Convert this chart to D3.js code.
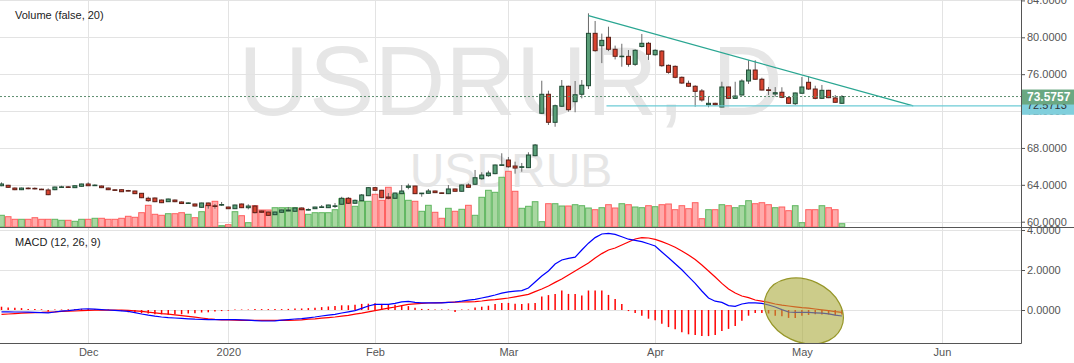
<!DOCTYPE html>
<html>
<head>
<meta charset="utf-8">
<script src="https://cdn.jsdelivr.net/npm/d3@7"></script>
<style>
  body { margin: 0; background: #fff; }
  svg { display: block; font-family: "Liberation Sans", Arial, sans-serif; }
</style>
</head>
<body>
<svg id="chart" width="1074" height="363"></svg>
<script>
// trading calendar: weekdays from the first candle, minus the days with no quotes
const startDate = '2019-11-13'
const holidays = ['2019-12-25', '2020-01-01']

// daily USD/RUB candles, one entry per trading day
const opens = [63.90, 63.95, 63.65, 63.47, 63.64, 63.62, 63.53, 63.44, 63.47, 63.74,
  63.78, 63.69, 63.84, 64.09, 63.93, 63.87, 63.65, 63.46, 63.47, 63.38,
  63.33, 63.08, 62.54, 62.57, 62.35, 62.17, 62.35, 62.14, 62.00, 61.92,
  61.56, 62.03, 61.72, 61.82, 61.59, 61.41, 61.92, 61.52, 61.70, 61.16,
  61.05, 60.76, 61.02, 61.16, 61.13, 61.49, 61.28, 61.41, 61.57, 61.52,
  61.68, 61.89, 62.54, 62.00, 62.28, 62.82, 63.69, 63.41, 62.68, 62.54,
  63.04, 63.73, 63.87, 63.06, 63.08, 63.33, 63.13, 63.04, 63.55, 63.30,
  63.98, 64.06, 64.66, 64.99, 65.21, 66.13, 66.69, 66.04, 65.90, 65.86,
  67.16, 71.76, 73.82, 70.78, 72.52, 74.69, 73.02, 73.82, 74.75, 80.43,
  79.09, 80.00, 78.70, 77.90, 77.94, 77.07, 79.00, 79.35, 78.11, 78.51,
  76.96, 76.85, 75.66, 75.01, 74.69, 74.18, 72.69, 72.84, 72.44, 74.61,
  73.38, 73.74, 75.26, 76.45, 75.45, 74.30, 73.85, 74.04, 73.45, 72.80,
  73.93, 75.12, 74.39, 73.38, 74.25, 73.42, 72.84]
const highs = [64.27, 64.00, 63.70, 63.70, 63.73, 63.72, 63.58, 63.62, 63.80, 63.90,
  63.85, 63.93, 64.12, 64.27, 64.05, 63.92, 63.70, 63.50, 63.50, 63.45,
  63.36, 63.10, 62.71, 62.62, 62.40, 62.50, 62.40, 62.20, 62.10, 61.96,
  62.06, 62.06, 61.92, 62.14, 61.62, 61.85, 61.96, 61.89, 61.81, 61.20,
  61.08, 61.08, 61.30, 61.59, 61.52, 61.53, 61.45, 61.62, 61.81, 61.84,
  62.03, 62.70, 62.68, 62.40, 63.00, 63.75, 63.75, 63.45, 63.11, 63.15,
  63.98, 64.12, 63.90, 63.12, 63.55, 63.37, 63.15, 63.98, 63.58, 64.02,
  64.16, 65.61, 65.36, 65.53, 66.20, 67.42, 67.02, 66.51, 66.37, 67.53,
  68.43, 75.29, 74.21, 72.70, 75.37, 74.75, 75.26, 75.37, 82.60, 81.77,
  80.40, 81.15, 79.10, 79.30, 78.62, 78.70, 80.36, 79.50, 78.70, 78.60,
  77.05, 76.95, 75.75, 75.30, 74.80, 74.39, 73.56, 72.90, 75.18, 74.65,
  75.18, 75.44, 77.51, 77.51, 75.62, 74.61, 74.60, 74.58, 73.50, 74.00,
  75.69, 75.80, 74.75, 74.83, 74.30, 73.74, 73.74]
const lows = [63.85, 63.68, 63.42, 63.43, 63.52, 63.50, 63.44, 62.88, 63.42, 63.70,
  63.70, 63.66, 63.80, 63.87, 63.88, 63.65, 63.43, 63.38, 63.22, 63.30,
  63.00, 62.56, 62.17, 62.12, 62.02, 62.14, 62.12, 61.92, 61.95, 61.66,
  61.52, 61.41, 61.41, 61.70, 61.38, 61.38, 61.48, 61.34, 60.91, 60.98,
  60.65, 60.72, 60.98, 61.14, 61.10, 61.26, 61.22, 61.38, 61.49, 61.49,
  61.49, 61.85, 61.92, 61.95, 62.25, 62.78, 63.36, 62.55, 62.43, 62.50,
  63.00, 63.51, 63.00, 62.71, 63.05, 63.12, 63.05, 63.00, 63.27, 63.27,
  63.70, 63.98, 64.56, 64.88, 65.15, 66.07, 65.86, 65.21, 65.42, 65.82,
  67.10, 71.70, 70.49, 70.30, 72.45, 71.93, 71.87, 73.38, 74.39, 78.44,
  77.20, 78.50, 77.60, 76.81, 76.81, 76.90, 78.90, 77.54, 78.00, 76.80,
  76.05, 75.55, 74.95, 74.60, 72.47, 73.02, 72.41, 72.60, 72.41, 73.35,
  73.31, 73.70, 74.94, 75.40, 74.25, 73.74, 73.56, 73.40, 72.78, 72.66,
  73.90, 74.30, 73.28, 73.31, 73.40, 72.90, 72.77]
const closes = [64.09, 63.73, 63.47, 63.65, 63.60, 63.58, 63.49, 62.93, 63.76, 63.78,
  63.74, 63.90, 64.09, 63.90, 63.97, 63.69, 63.47, 63.42, 63.25, 63.34,
  63.04, 62.60, 62.28, 62.17, 62.06, 62.46, 62.17, 61.97, 62.04, 61.70,
  62.03, 61.74, 61.68, 61.86, 61.41, 61.81, 61.52, 61.70, 60.98, 61.02,
  60.69, 61.05, 61.27, 61.27, 61.49, 61.30, 61.32, 61.59, 61.61, 61.81,
  61.72, 62.54, 62.00, 62.32, 62.90, 63.69, 63.41, 62.60, 62.54, 63.11,
  63.33, 63.87, 63.04, 63.10, 63.33, 63.15, 63.09, 63.55, 63.30, 63.98,
  63.73, 64.77, 65.06, 65.28, 66.15, 66.17, 65.96, 65.82, 65.96, 67.23,
  68.32, 73.82, 70.78, 72.58, 74.69, 72.15, 73.77, 74.80, 80.43, 78.55,
  79.67, 78.70, 77.94, 77.96, 77.07, 78.59, 79.35, 78.16, 78.59, 76.92,
  76.20, 75.66, 75.04, 74.69, 74.14, 73.20, 72.84, 72.69, 74.61, 73.38,
  73.63, 75.26, 76.45, 75.45, 74.28, 74.26, 73.99, 73.49, 72.84, 73.96,
  74.61, 74.39, 73.38, 74.25, 73.45, 72.95, 73.5757]
const volumes = [11.7, 10.3, 7.7, 7.7, 7.7, 9.3, 7.7, 7.7, 7.7, 6.7,
  6.7, 5.7, 7.7, 7.7, 8.7, 8.7, 7.7, 7.7, 8.7, 10.7,
  9.7, 14.3, 21.7, 12.7, 11.7, 13.3, 13.3, 14.3, 12.7, 9.3,
  15.3, 21.7, 25.7, 1.3, 2.3, 15.3, 11.3, 4.3, 21.3, 17.0,
  17.0, 19.3, 19.3, 19.3, 19.3, 18.3, 12.7, 14.3, 14.3, 14.3,
  17.3, 28.3, 28.3, 20.7, 25.7, 25.7, 32.7, 26.7, 39.7, 32.7,
  34.0, 26.7, 25.7, 15.7, 21.7, 14.7, 8.7, 18.7, 15.7, 17.7,
  21.7, 11.7, 29.7, 36.7, 34.7, 49.7, 55.7, 35.7, 18.7, 20.7,
  25.3, 5.3, 23.3, 23.3, 21.0, 21.0, 22.3, 21.3, 19.0, 17.3,
  19.3, 22.3, 19.0, 23.3, 22.3, 20.0, 19.3, 21.3, 20.3, 22.3,
  23.0, 17.3, 21.3, 18.3, 24.3, 8.3, 17.3, 17.3, 22.3, 21.3,
  19.3, 21.3, 26.3, 23.3, 24.3, 22.3, 19.3, 20.0, 16.3, 21.3,
  4.3, 17.3, 17.3, 21.3, 19.3, 17.3, 3.3]

// MACD (12, 26, 9)
const macdLine = [-0.09, -0.09, -0.10, -0.10, -0.11, -0.12, -0.13, -0.14, -0.10, -0.06,
  -0.03, 0.01, 0.05, 0.06, 0.04, 0.02, 0.00, -0.02, -0.04, -0.07,
  -0.13, -0.20, -0.26, -0.31, -0.35, -0.38, -0.40, -0.42, -0.44, -0.46,
  -0.47, -0.48, -0.48, -0.48, -0.48, -0.48, -0.49, -0.51, -0.53, -0.55,
  -0.55, -0.54, -0.51, -0.48, -0.45, -0.43, -0.39, -0.35, -0.30, -0.26,
  -0.22, -0.15, -0.09, -0.03, 0.08, 0.20, 0.28, 0.28, 0.28, 0.33,
  0.41, 0.43, 0.38, 0.36, 0.36, 0.36, 0.36, 0.38, 0.40, 0.44,
  0.49, 0.53, 0.60, 0.67, 0.75, 0.84, 0.91, 0.94, 0.97, 1.10,
  1.40, 1.70, 1.95, 2.30, 2.50, 2.58, 2.64, 3.00, 3.34, 3.62,
  3.80, 3.83, 3.78, 3.66, 3.54, 3.48, 3.42, 3.31, 3.20, 2.90,
  2.61, 2.31, 2.01, 1.67, 1.33, 0.95, 0.60, 0.44, 0.38, 0.22,
  0.18, 0.30, 0.36, 0.36, 0.33, 0.25, 0.15, 0.02, -0.10, -0.12,
  -0.12, -0.12, -0.14, -0.16, -0.19, -0.26, -0.30]
const signalLine = [-0.22, -0.20, -0.18, -0.16, -0.14, -0.13, -0.12, -0.10, -0.09, -0.07,
  -0.06, -0.05, -0.03, -0.02, -0.01, -0.01, -0.01, -0.01, -0.01, -0.02,
  -0.04, -0.07, -0.11, -0.14, -0.18, -0.21, -0.24, -0.28, -0.32, -0.36,
  -0.40, -0.44, -0.47, -0.49, -0.50, -0.51, -0.52, -0.52, -0.52, -0.52,
  -0.52, -0.52, -0.52, -0.52, -0.51, -0.49, -0.46, -0.44, -0.41, -0.38,
  -0.35, -0.31, -0.27, -0.21, -0.16, -0.09, -0.03, 0.03, 0.09, 0.15,
  0.22, 0.28, 0.31, 0.33, 0.35, 0.36, 0.37, 0.38, 0.39, 0.40,
  0.41, 0.42, 0.45, 0.49, 0.52, 0.56, 0.60, 0.66, 0.72, 0.78,
  0.92, 1.05, 1.20, 1.38, 1.55, 1.75, 1.95, 2.15, 2.35, 2.60,
  2.82, 3.00, 3.10, 3.25, 3.40, 3.55, 3.62, 3.60, 3.53, 3.42,
  3.29, 3.14, 2.95, 2.75, 2.52, 2.25, 1.95, 1.65, 1.33, 1.05,
  0.85, 0.70, 0.62, 0.50, 0.44, 0.38, 0.30, 0.24, 0.20, 0.16,
  0.12, 0.09, 0.05, 0.01, -0.03, -0.08, -0.12]
const histogram = [0.14, 0.10, 0.09, 0.07, 0.03, 0.02, 0.01, -0.05, 0.00, 0.00,
  0.01, 0.02, 0.03, 0.03, 0.02, 0.01, 0.00, -0.01, -0.03, -0.09,
  -0.10, -0.14, -0.15, -0.19, -0.19, -0.21, -0.19, -0.19, -0.15, -0.14,
  -0.10, -0.09, -0.05, -0.03, -0.01, 0.00, 0.00, 0.00, 0.02, 0.02,
  0.02, 0.02, 0.02, 0.03, 0.05, 0.05, 0.07, 0.09, 0.12, 0.15,
  0.17, 0.21, 0.21, 0.24, 0.28, 0.29, 0.31, 0.28, 0.24, 0.24,
  0.22, 0.17, 0.09, 0.03, 0.02, 0.00, 0.00, 0.00, -0.07, 0.00,
  0.00, 0.10, 0.14, 0.19, 0.28, 0.33, 0.33, 0.29, 0.28, 0.31,
  0.33, 0.65, 0.72, 0.78, 0.95, 0.78, 0.77, 0.70, 0.95, 0.95,
  0.95, 0.73, 0.53, 0.27, -0.03, -0.12, -0.26, -0.41, -0.49, -0.66,
  -0.83, -0.94, -1.09, -1.19, -1.23, -1.28, -1.28, -1.23, -1.02, -0.92,
  -0.77, -0.51, -0.26, -0.12, -0.12, -0.15, -0.26, -0.29, -0.37, -0.37,
  -0.26, -0.22, -0.19, -0.20, -0.20, -0.24, -0.20]

// axis ticks and annotations
const priceTicks = [60, 64, 68, 72, 76, 80, 84]
const macdTicks = [0, 2, 4]
const trendLine = [[88, 82.34], [136.7, 72.57]]
const supportLevel = 72.5713
const supportStart = 90.7
const lastPrice = 73.5757
const circleAt = [120.3, -0.05]

// ---- layout
const W = 1074
const axisX = 1021
const paneSplit = 227
const bottomY = 343
const svg = d3.select('#chart')

const parse = d3.timeParse('%Y-%m-%d')
const fmt = d3.timeFormat('%Y-%m-%d')
const days = []
for (let d = parse(startDate); days.length < 156; d = d3.timeDay.offset(d, 1)) {
  if (d.getDay() === 0 || d.getDay() === 6 || holidays.includes(fmt(d))) continue
  days.push(d)
}
const monthIdx = d3.range(1, days.length).filter(i => days[i].getMonth() !== days[i - 1].getMonth())

const x = d3.scaleLinear().domain([0, 153]).range([1.5, 1.5 + 6.67 * 153])
const yPrice = d3.scaleLinear().domain([60, 80]).range([221.7, 37.3])
const yVol = d3.scaleLinear().domain([0, 60]).range([paneSplit, paneSplit - 60])
const yMacd = d3.scaleLinear().domain([0, 4]).range([310, 230])

const defs = svg.append('defs')
defs.append('clipPath').attr('id', 'clipPrice')
  .append('rect').attr('x', 0).attr('y', 0).attr('width', axisX).attr('height', paneSplit)
defs.append('clipPath').attr('id', 'clipMacd')
  .append('rect').attr('x', 0).attr('y', paneSplit).attr('width', axisX).attr('height', bottomY - paneSplit)

// watermark
svg.append('text').attr('x', 510.5).attr('y', 115).attr('text-anchor', 'middle')
  .attr('font-size', 98).attr('fill', '#e6e6e6').text('USDRUR, D')
svg.append('text').attr('x', 511).attr('y', 187).attr('text-anchor', 'middle')
  .attr('font-size', 48).attr('fill', '#e6e6e6').text('USDRUB')

// grid
const grid = svg.append('g').attr('stroke', '#e3e3e3').attr('stroke-width', 1)
priceTicks.forEach(t => {
  grid.append('line').attr('x1', 0).attr('x2', axisX)
    .attr('y1', Math.round(yPrice(t)) + 0.5).attr('y2', Math.round(yPrice(t)) + 0.5)
})
macdTicks.forEach(t => {
  grid.append('line').attr('x1', 0).attr('x2', axisX)
    .attr('y1', yMacd(t) + 0.5).attr('y2', yMacd(t) + 0.5)
})
monthIdx.forEach(i => {
  if (x(i) > axisX) return
  grid.append('line').attr('x1', Math.round(x(i)) + 0.5).attr('x2', Math.round(x(i)) + 0.5)
    .attr('y1', 0).attr('y2', bottomY)
})

// ---- price pane
const price = svg.append('g').attr('clip-path', 'url(#clipPrice)')
const idx = d3.range(closes.length)
const up = i => closes[i] >= opens[i]

price.append('g').selectAll('rect').data(idx).join('rect')
  .attr('x', i => x(i) - 3.33 + 0.5)
  .attr('width', 6.67 - 1)
  .attr('y', i => yVol(volumes[i]))
  .attr('height', i => yVol(0) - yVol(volumes[i]))
  .attr('fill', i => up(i) ? '#a8d7a1' : '#ffaaaa')
  .attr('stroke', i => up(i) ? '#5fb65f' : '#ff5f5f')
  .attr('stroke-width', 1)

price.append('g').selectAll('line').data(idx).join('line')
  .attr('x1', i => x(i)).attr('x2', i => x(i))
  .attr('y1', i => yPrice(highs[i])).attr('y2', i => yPrice(lows[i]))
  .attr('stroke', '#6a6a6a').attr('stroke-width', 1)

price.append('g').selectAll('rect').data(idx).join('rect')
  .attr('x', i => x(i) - 2)
  .attr('width', 4)
  .attr('y', i => yPrice(Math.max(opens[i], closes[i])))
  .attr('height', i => Math.max(0.6, Math.abs(yPrice(opens[i]) - yPrice(closes[i]))))
  .attr('fill', i => up(i) ? '#5a9e78' : '#d8432f')
  .attr('stroke', i => up(i) ? '#1e4a33' : '#5c1e16')
  .attr('stroke-width', 1)

// last price line, trend line and support level
price.append('line').attr('x1', 0).attr('x2', axisX)
  .attr('y1', yPrice(lastPrice)).attr('y2', yPrice(lastPrice))
  .attr('stroke', '#5d8e70').attr('stroke-dasharray', '2,2')
price.append('line')
  .attr('x1', x(trendLine[0][0])).attr('y1', yPrice(trendLine[0][1]))
  .attr('x2', x(trendLine[1][0])).attr('y2', yPrice(trendLine[1][1]))
  .attr('stroke', '#2aa692').attr('stroke-width', 1.3)
price.append('line')
  .attr('x1', x(supportStart)).attr('x2', axisX)
  .attr('y1', yPrice(supportLevel)).attr('y2', yPrice(supportLevel))
  .attr('stroke', '#6ccbd6').attr('stroke-width', 1.3)

svg.append('text').attr('x', 15).attr('y', 19).attr('font-size', 11).attr('fill', '#222')
  .text('Volume (false, 20)')

// ---- MACD pane
const macd = svg.append('g').attr('clip-path', 'url(#clipMacd)')
macd.append('g').selectAll('line').data(idx).join('line')
  .attr('x1', i => x(i)).attr('x2', i => x(i))
  .attr('y1', yMacd(0)).attr('y2', i => yMacd(histogram[i]) + (histogram[i] >= 0 ? -0.5 : 0.5))
  .attr('stroke', '#ff0000').attr('stroke-width', 1.5)

const line = d3.line().x((d, i) => x(i)).y(d => yMacd(d))
macd.append('path').datum(signalLine).attr('d', line)
  .attr('fill', 'none').attr('stroke', '#ff0000').attr('stroke-width', 1.2)
macd.append('path').datum(macdLine).attr('d', line)
  .attr('fill', 'none').attr('stroke', '#0000ff').attr('stroke-width', 1.2)

macd.append('ellipse')
  .attr('transform', `translate(${x(circleAt[0])},${yMacd(circleAt[1])}) rotate(25)`)
  .attr('rx', 41).attr('ry', 31)
  .attr('fill', 'rgb(170,170,60)').attr('fill-opacity', 0.6)
  .attr('stroke', 'rgb(150,150,40)').attr('stroke-width', 1.2)

svg.append('text').attr('x', 15).attr('y', 246).attr('font-size', 11).attr('fill', '#222')
  .text('MACD (12, 26, 9)')

// ---- axes
const tickFmt = d3.format('.4f')
const priceAxis = svg.append('g').attr('transform', `translate(${axisX},0)`)
  .call(d3.axisRight(yPrice).tickValues(priceTicks).tickFormat(tickFmt).tickSize(4).tickPadding(2))
const macdAxis = svg.append('g').attr('transform', `translate(${axisX},0)`)
  .call(d3.axisRight(yMacd).tickValues(macdTicks).tickFormat(tickFmt).tickSize(4).tickPadding(2))
const timeAxis = svg.append('g').attr('transform', `translate(0,${bottomY})`)
  .call(d3.axisBottom(x).tickValues(monthIdx.filter(i => x(i) < axisX))
    .tickFormat(i => days[i].getMonth() === 0 ? d3.timeFormat('%Y')(days[i]) : d3.timeFormat('%b')(days[i]))
    .tickSize(0).tickPadding(5))
;[priceAxis, macdAxis, timeAxis].forEach(g => {
  g.select('.domain').remove()
  g.selectAll('text').attr('font-size', 11).attr('fill', '#555')
    .attr('font-family', '"Liberation Sans", Arial, sans-serif')
  g.selectAll('.tick line').attr('stroke', '#555')
})

svg.append('line').attr('x1', 0).attr('x2', W).attr('y1', paneSplit + 0.5).attr('y2', paneSplit + 0.5)
  .attr('stroke', '#555')
svg.append('line').attr('x1', 0).attr('x2', axisX + 0.5).attr('y1', bottomY + 0.5).attr('y2', bottomY + 0.5)
  .attr('stroke', '#555')
svg.append('line').attr('x1', axisX + 0.5).attr('x2', axisX + 0.5).attr('y1', 0).attr('y2', bottomY + 0.5)
  .attr('stroke', '#555')

// price labels on the axis
const supY = yPrice(supportLevel)
svg.append('rect').attr('x', axisX + 1).attr('y', supY - 6).attr('width', W - axisX).attr('height', 15)
  .attr('fill', '#80cfdc')
svg.append('text').attr('x', axisX + 6).attr('y', supY + 3.5).attr('font-size', 11).attr('fill', '#333')
  .text(tickFmt(supportLevel))
const lastY = yPrice(lastPrice)
svg.append('rect').attr('x', axisX + 1).attr('y', lastY - 7).attr('width', W - axisX).attr('height', 15)
  .attr('fill', '#6aa882')
svg.append('text').attr('x', axisX + 6).attr('y', lastY + 4.5).attr('font-size', 12)
  .attr('font-weight', 'bold').attr('fill', '#fff')
  .text(lastPrice.toFixed(4))
</script>
</body>
</html>
